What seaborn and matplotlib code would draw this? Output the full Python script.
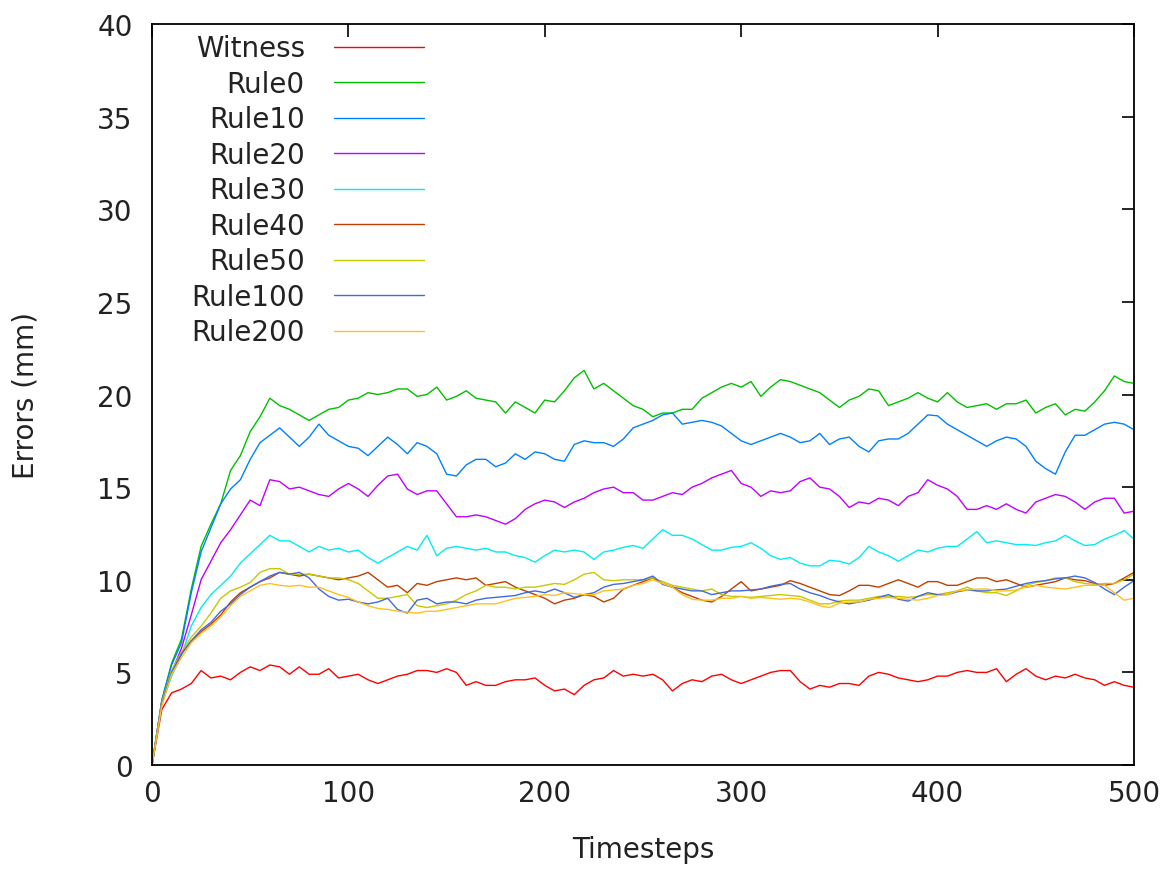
import numpy as np
import pandas as pd
import matplotlib
matplotlib.use("Agg")
import matplotlib.pyplot as plt
import seaborn as sns

timesteps = list(range(0, 501, 5))

witness = [0, 3.0, 3.9, 4.1, 4.4, 5.1, 4.7, 4.8, 4.6, 5.0, 5.3, 5.1, 5.4, 5.3, 4.9, 5.3, 4.9, 4.9, 5.2, 4.7,
           4.8, 4.9, 4.6, 4.4, 4.6, 4.8, 4.9, 5.1, 5.1, 5.0, 5.2, 5.0, 4.3, 4.5, 4.3, 4.3, 4.5, 4.6, 4.6, 4.7,
           4.3, 4.0, 4.1, 3.8, 4.3, 4.6, 4.7, 5.1, 4.8, 4.9, 4.8, 4.9, 4.6, 4.0, 4.4, 4.6, 4.5, 4.8, 4.9, 4.6,
           4.4, 4.6, 4.8, 5.0, 5.1, 5.1, 4.5, 4.1, 4.3, 4.2, 4.4, 4.4, 4.3, 4.8, 5.0, 4.9, 4.7, 4.6, 4.5, 4.6,
           4.8, 4.8, 5.0, 5.1, 5.0, 5.0, 5.2, 4.5, 4.9, 5.2, 4.8, 4.6, 4.8, 4.7, 4.9, 4.7, 4.6, 4.3, 4.5, 4.3,
           4.2]
rule0 = [0, 3.5, 5.5, 6.8, 9.5, 11.8, 13.0, 14.1, 15.9, 16.7, 18.0, 18.8, 19.8, 19.4, 19.2, 18.9, 18.6, 18.9, 19.2, 19.3,
         19.7, 19.8, 20.1, 20.0, 20.1, 20.3, 20.3, 19.9, 20.0, 20.4, 19.7, 19.9, 20.2, 19.8, 19.7, 19.6, 19.0, 19.6, 19.3, 19.0,
         19.7, 19.6, 20.2, 20.9, 21.3, 20.3, 20.6, 20.2, 19.8, 19.4, 19.2, 18.8, 19.0, 19.0, 19.2, 19.2, 19.8, 20.1, 20.4, 20.6,
         20.4, 20.7, 19.9, 20.4, 20.8, 20.7, 20.5, 20.3, 20.1, 19.7, 19.3, 19.7, 19.9, 20.3, 20.2, 19.4, 19.6, 19.8, 20.1, 19.8,
         19.6, 20.1, 19.6, 19.3, 19.4, 19.5, 19.2, 19.5, 19.5, 19.7, 19.0, 19.3, 19.5, 18.9, 19.2, 19.1, 19.6, 20.2, 21.0, 20.7,
         20.6]
rule10 = [0, 3.5, 5.4, 6.6, 9.3, 11.5, 12.8, 14.1, 14.9, 15.4, 16.5, 17.4, 17.8, 18.2, 17.7, 17.2, 17.7, 18.4, 17.8, 17.5,
          17.2, 17.1, 16.7, 17.2, 17.7, 17.3, 16.8, 17.4, 17.2, 16.8, 15.7, 15.6, 16.2, 16.5, 16.5, 16.1, 16.3, 16.8, 16.5, 16.9,
          16.8, 16.5, 16.4, 17.3, 17.5, 17.4, 17.4, 17.2, 17.6, 18.2, 18.4, 18.6, 18.9, 19.0, 18.4, 18.5, 18.6, 18.5, 18.3, 17.9,
          17.5, 17.3, 17.5, 17.7, 17.9, 17.7, 17.4, 17.5, 17.9, 17.3, 17.6, 17.7, 17.2, 16.9, 17.5, 17.6, 17.6, 17.9, 18.4, 18.9,
          18.85, 18.4, 18.1, 17.8, 17.5, 17.2, 17.5, 17.7, 17.6, 17.2, 16.4, 16.0, 15.7, 16.9, 17.8, 17.8, 18.1, 18.4, 18.5, 18.4,
          18.1]
rule20 = [0, 3.4, 5.0, 6.3, 8.1, 10.0, 11.0, 12.0, 12.7, 13.5, 14.3, 14.0, 15.4, 15.3, 14.9, 15.0, 14.8, 14.6, 14.5, 14.9,
          15.2, 14.9, 14.5, 15.1, 15.6, 15.7, 14.9, 14.6, 14.8, 14.8, 14.1, 13.4, 13.4, 13.5, 13.4, 13.2, 13.0, 13.3, 13.8, 14.1,
          14.3, 14.2, 13.9, 14.2, 14.4, 14.7, 14.9, 15.0, 14.7, 14.7, 14.3, 14.3, 14.5, 14.7, 14.6, 15.0, 15.2, 15.5, 15.7, 15.9,
          15.2, 15.0, 14.5, 14.8, 14.7, 14.8, 15.3, 15.5, 15.0, 14.9, 14.5, 13.9, 14.2, 14.1, 14.4, 14.3, 14.0, 14.5, 14.7, 15.4,
          15.1, 14.9, 14.5, 13.8, 13.8, 14.0, 13.8, 14.1, 13.8, 13.6, 14.2, 14.4, 14.6, 14.5, 14.2, 13.8, 14.2, 14.4, 14.4, 13.6,
          13.7]
rule30 = [0, 3.3, 4.8, 5.9, 7.5, 8.5, 9.2, 9.7, 10.2, 10.9, 11.4, 11.9, 12.4, 12.1, 12.1, 11.8, 11.5, 11.8, 11.6, 11.7,
          11.5, 11.6, 11.2, 10.9, 11.2, 11.5, 11.8, 11.6, 12.4, 11.3, 11.7, 11.8, 11.7, 11.6, 11.7, 11.5, 11.5, 11.3, 11.2, 10.95,
          11.3, 11.6, 11.5, 11.6, 11.5, 11.1, 11.5, 11.6, 11.75, 11.85, 11.7, 12.2, 12.7, 12.4, 12.4, 12.2, 11.9, 11.6, 11.6, 11.75,
          11.8, 12.0, 11.7, 11.3, 11.1, 11.2, 10.9, 10.75, 10.75, 11.05, 11.0, 10.85, 11.2, 11.8, 11.5, 11.3, 11.0, 11.3, 11.6, 11.5,
          11.7, 11.8, 11.8, 12.2, 12.6, 12.0, 12.1, 12.0, 11.9, 11.9, 11.85, 12.0, 12.1, 12.4, 12.1, 11.85, 11.9, 12.2, 12.4, 12.65,
          12.2]
rule40 = [0, 3.3, 5.0, 6.0, 6.7, 7.2, 7.6, 8.1, 8.8, 9.3, 9.6, 9.9, 10.1, 10.4, 10.3, 10.2, 10.3, 10.2, 10.1, 10.0,
          10.1, 10.2, 10.4, 10.0, 9.6, 9.7, 9.3, 9.8, 9.7, 9.9, 10.0, 10.1, 10.0, 10.1, 9.7, 9.8, 9.9, 9.6, 9.4, 9.2,
          9.0, 8.7, 8.9, 9.0, 9.2, 9.1, 8.8, 9.0, 9.5, 9.7, 9.9, 10.1, 9.8, 9.6, 9.3, 9.1, 8.9, 8.8, 9.1, 9.5,
          9.9, 9.4, 9.5, 9.6, 9.7, 9.95, 9.8, 9.6, 9.4, 9.2, 9.15, 9.4, 9.7, 9.7, 9.6, 9.8, 10.0, 9.8, 9.6, 9.9,
          9.9, 9.7, 9.7, 9.9, 10.1, 10.1, 9.9, 10.0, 9.8, 9.6, 9.7, 9.8, 9.9, 10.1, 10.0, 9.95, 9.8, 9.7, 9.8, 10.1,
          10.4]
rule50 = [0, 3.4, 5.1, 6.1, 6.9, 7.5, 8.2, 9.0, 9.4, 9.6, 9.85, 10.4, 10.6, 10.6, 10.3, 10.3, 10.3, 10.2, 10.1, 10.1,
          10.0, 9.8, 9.4, 9.0, 9.0, 9.1, 9.2, 8.6, 8.5, 8.6, 8.7, 8.9, 9.2, 9.4, 9.7, 9.6, 9.6, 9.5, 9.6, 9.6,
          9.7, 9.8, 9.75, 10.0, 10.3, 10.4, 10.0, 9.95, 10.0, 10.0, 10.0, 10.1, 9.9, 9.7, 9.6, 9.5, 9.4, 9.5, 9.2, 9.1,
          9.1, 9.05, 9.1, 9.15, 9.2, 9.15, 9.1, 8.9, 8.7, 8.7, 8.85, 8.9, 8.9, 9.0, 9.1, 9.1, 9.1, 9.05, 9.1, 9.2,
          9.2, 9.3, 9.4, 9.6, 9.4, 9.3, 9.3, 9.15, 9.4, 9.7, 9.85, 9.95, 10.1, 10.1, 9.9, 9.8, 9.75, 9.8, 9.8, 10.0,
          10.3]
rule100 = [0, 3.3, 5.0, 6.0, 6.7, 7.3, 7.7, 8.3, 8.7, 9.2, 9.6, 9.9, 10.2, 10.4, 10.3, 10.4, 10.1, 9.5, 9.1, 8.9,
           8.95, 8.8, 8.7, 8.8, 9.0, 8.4, 8.2, 8.9, 9.0, 8.7, 8.8, 8.8, 8.7, 8.9, 9.0, 9.05, 9.1, 9.15, 9.3, 9.4,
           9.3, 9.5, 9.3, 9.05, 9.2, 9.3, 9.6, 9.75, 9.8, 9.9, 10.0, 10.2, 9.75, 9.6, 9.5, 9.4, 9.4, 9.2, 9.3, 9.4,
           9.4, 9.45, 9.5, 9.65, 9.75, 9.8, 9.5, 9.3, 9.15, 8.95, 8.8, 8.7, 8.8, 8.9, 9.05, 9.2, 8.95, 8.85, 9.1, 9.3,
           9.2, 9.2, 9.35, 9.45, 9.4, 9.4, 9.45, 9.5, 9.65, 9.8, 9.9, 9.95, 10.05, 10.1, 10.2, 10.1, 9.85, 9.5, 9.2, 9.6,
           9.95]
rule200 = [0, 3.2, 4.9, 5.8, 6.6, 7.1, 7.5, 8.0, 8.6, 9.1, 9.4, 9.7, 9.8, 9.7, 9.65, 9.7, 9.6, 9.6, 9.4, 9.2,
           9.05, 8.8, 8.6, 8.45, 8.4, 8.3, 8.25, 8.2, 8.3, 8.3, 8.4, 8.5, 8.6, 8.7, 8.7, 8.7, 8.85, 9.0, 9.05, 9.1,
           9.2, 9.15, 9.3, 9.25, 9.2, 9.2, 9.4, 9.45, 9.5, 9.7, 9.8, 10.0, 9.8, 9.6, 9.2, 8.95, 8.9, 8.9, 9.0, 9.0,
           9.1, 9.0, 9.05, 9.0, 8.95, 9.0, 8.95, 8.8, 8.6, 8.5, 8.75, 8.8, 8.8, 8.95, 9.0, 9.05, 9.0, 8.95, 8.9, 9.0,
           9.15, 9.2, 9.4, 9.45, 9.5, 9.5, 9.4, 9.4, 9.45, 9.6, 9.7, 9.6, 9.55, 9.5, 9.6, 9.7, 9.7, 9.7, 9.3, 8.9,
           9.0]

series_names = ["Witness", "Rule0", "Rule10", "Rule20", "Rule30", "Rule40", "Rule50", "Rule100", "Rule200"]
series_values = [witness, rule0, rule10, rule20, rule30, rule40, rule50, rule100, rule200]
colors = ["#ff0000", "#00c000", "#0080ff", "#c000ff", "#00eeee", "#c04000", "#c8c800", "#4169e1", "#ffc020"]

rows = []
for name, vals in zip(series_names, series_values):
    for t, v in zip(timesteps, vals):
        rows.append((name, t, v))
df = pd.DataFrame(rows, columns=["series", "Timesteps", "Errors"])

sns.set_style("white")
plt.rcParams["font.family"] = ["DejaVu Sans"]

FS = 20
fig = plt.figure(figsize=(11.71, 8.70), dpi=100)
ax = fig.add_axes([0.1298, 0.1195, 0.8386, 0.8518])

sns.lineplot(data=df, x="Timesteps", y="Errors", hue="series", hue_order=series_names,
             palette=dict(zip(series_names, colors)), estimator=None, linewidth=1.0,
             legend=False, ax=ax)

ax.set_xlim(0, 500)
ax.set_ylim(0, 40)
ax.set_xticks([0, 100, 200, 300, 400, 500])
ax.set_yticks(range(0, 41, 5))
ax.tick_params(direction="in", length=9, width=1.2, labelsize=FS, top=True, right=True,
               color="black", labelcolor="#222222")
ax.tick_params(axis="y", pad=14)
ax.tick_params(axis="x", pad=10)
for s in ax.spines.values():
    s.set_color("black")
    s.set_linewidth(1.3)
ax.set_xlabel("Timesteps", fontsize=FS, color="#222222")
ax.set_ylabel("Errors (mm)", fontsize=FS, color="#222222")
ax.xaxis.set_label_coords(0.5, -0.095)
ax.yaxis.set_label_coords(-0.115, 0.5)

handles = ax.get_lines()[:len(series_names)]
leg = ax.legend(handles, series_names, loc="upper left", bbox_to_anchor=(0.040, 0.986),
                frameon=False, markerfirst=False, fontsize=FS, handlelength=3.25,
                handletextpad=1.05, labelspacing=0.27, borderaxespad=0.0, borderpad=0.0)
for txt in leg.get_texts():
    txt.set_color("#222222")

fig.savefig("out.png", dpi=100, facecolor="white")
